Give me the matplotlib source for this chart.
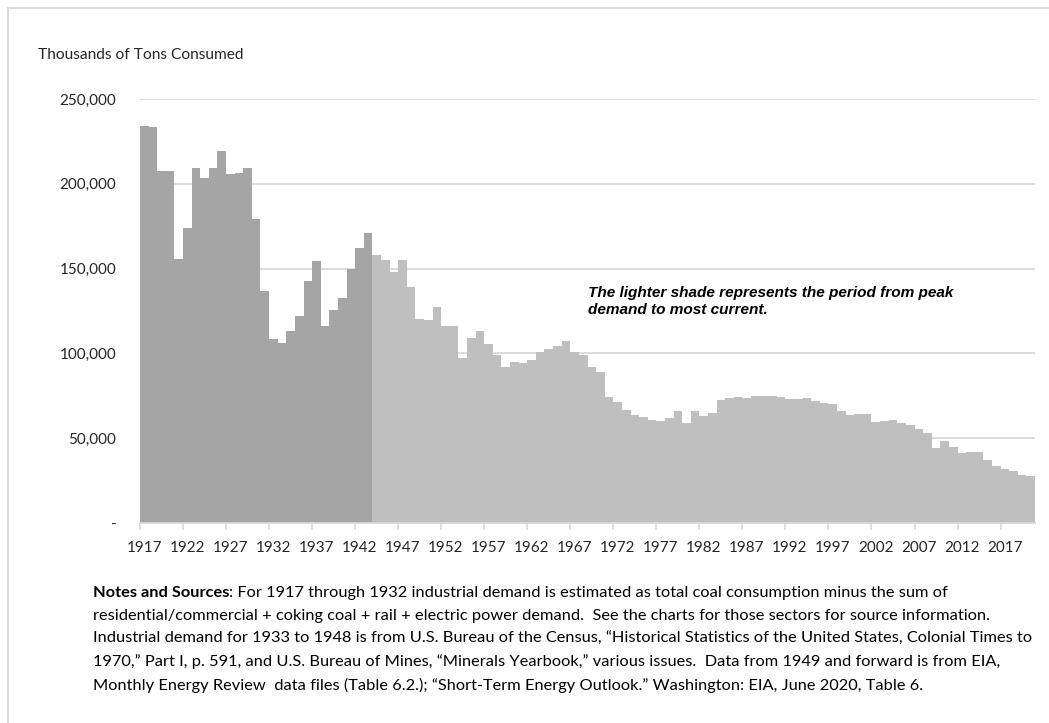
import numpy as np
import matplotlib
matplotlib.use("Agg")
import matplotlib.pyplot as plt
from matplotlib.ticker import FuncFormatter, FixedLocator
from matplotlib.lines import Line2D

# Industrial coal demand, thousands of short tons, 1917-2020
years = list(range(1917, 2021))
demand = [
    234.1, 233.5, 207.3, 207.6, 155.5, 173.7, 209.6, 203.3, 209.2, 219.6,   # 1917-1926
    205.5, 206.3, 209.6, 179.0, 136.9, 108.6, 106.3, 113.1, 122.0, 142.7,   # 1927-1936
    154.5, 116.1, 125.3, 132.9, 149.8, 162.0, 171.2, 158.2, 155.3, 147.8,   # 1937-1946
    155.3, 139.0, 120.0, 119.4, 127.5, 116.1, 116.1, 97.3, 108.8, 113.3,    # 1947-1956
    105.7, 99.2, 91.8, 95.1, 94.5, 96.1, 100.8, 102.3, 104.5, 107.6,        # 1957-1966
    100.8, 99.2, 92.1, 88.8, 74.5, 71.6, 66.9, 63.9, 62.5, 60.6,            # 1967-1976
    60.0, 62.0, 66.3, 59.2, 66.3, 62.9, 65.1, 72.3, 73.9, 74.3,             # 1977-1986
    73.9, 74.9, 75.1, 74.9, 74.3, 73.1, 73.3, 73.9, 71.9, 70.8,             # 1987-1996
    70.2, 66.3, 63.5, 64.1, 64.1, 59.8, 60.2, 61.0, 59.2, 58.0,             # 1997-2006
    55.3, 53.3, 44.3, 48.4, 44.7, 41.4, 41.8, 41.8, 37.1, 33.7,             # 2007-2016
    31.8, 30.4, 28.2, 27.6,                                                 # 2017-2020
]
demand = [v * 1000 for v in demand]
peak_end_year = 1943  # darker shade up to the peak, lighter afterwards

dark_color = "#A5A5A5"
light_color = "#BFBFBF"
grid_color = "#D9D9D9"

fig = plt.figure(figsize=(10.49, 7.23), dpi=100)
W, H = 1049, 723

def fx(px):
    return px / W

def fy(py):
    return 1 - py / H

ax = fig.add_axes([fx(140), fy(523), fx(1035) - fx(140), fy(99) - fy(523)])

x = np.arange(len(years))
colors = [dark_color if y <= peak_end_year else light_color for y in years]
ax.bar(x, demand, width=1.0, color=colors, linewidth=0, zorder=2)

ax.set_xlim(-0.5, len(years) - 0.5)
ax.set_ylim(0, 250000)

# gridlines
ax.set_yticks([0, 50000, 100000, 150000, 200000, 250000])
ax.yaxis.set_major_formatter(FuncFormatter(lambda v, p: "-" if v == 0 else f"{int(v):,}"))
ax.grid(axis="y", color=grid_color, linewidth=1.3, zorder=0)
ax.set_axisbelow(True)

# x ticks: labels every 5 years, tick marks at category edges
label_idx = [i for i, y in enumerate(years) if (y - 1917) % 5 == 0]
ax.set_xticks(label_idx)
ax.set_xticklabels([str(years[i]) for i in label_idx])
ax.xaxis.set_minor_locator(FixedLocator([i - 0.5 for i in label_idx]))
ax.tick_params(axis="x", which="major", length=0, pad=13)
ax.tick_params(axis="x", which="minor", length=5, color=grid_color, width=1.2)
ax.tick_params(axis="y", length=0, pad=17)

for lab in ax.get_xticklabels() + ax.get_yticklabels():
    lab.set_fontfamily("Lato")
    lab.set_fontsize(11)
    lab.set_color("#262626")

for side in ["top", "right", "left"]:
    ax.spines[side].set_visible(False)
ax.spines["bottom"].set_color(grid_color)
ax.spines["bottom"].set_linewidth(1.3)
ax.spines["bottom"].set_zorder(3)

# y-axis title
fig.text(fx(38), fy(55), "Thousands of Tons Consumed", fontfamily="Lato",
         fontsize=11.2, color="#262626", va="center", ha="left")

# annotation
fig.text(fx(588), fy(286), "The lighter shade represents the period from peak\ndemand to most current.",
         fontfamily="Liberation Sans", fontsize=11.1, fontweight="bold", fontstyle="italic",
         color="black", va="top", ha="left", linespacing=1.3)

# notes and sources
notes_lines = [
    "For 1917 through 1932 industrial demand is estimated as total coal consumption minus the sum of",
    "residential/commercial + coking coal + rail + electric power demand.  See the charts for those sectors for source information.",
    "Industrial demand for 1933 to 1948 is from U.S. Bureau of the Census, \u201cHistorical Statistics of the United States, Colonial Times to",
    "1970,\u201d Part I, p. 591, and U.S. Bureau of Mines, \u201cMinerals Yearbook,\u201d various issues.  Data from 1949 and forward is from EIA,",
    "Monthly Energy Review  data files (Table 6.2.); \u201cShort-Term Energy Outlook.\u201d Washington: EIA, June 2020, Table 6.",
]
note_x = fx(93)
note_y0 = 593
note_step = 23
notes_font = dict(fontfamily="Lato", fontsize=11.8, color="black", va="center", ha="left")

fig.canvas.draw()
renderer = fig.canvas.get_renderer()
bold = fig.text(note_x, fy(note_y0), "Notes and Sources", fontweight="bold", **notes_font)
bb = bold.get_window_extent(renderer=renderer)
fig.text(bb.x1 / W, fy(note_y0), ": " + notes_lines[0], **notes_font)
for k, line in enumerate(notes_lines[1:], start=1):
    fig.text(note_x, fy(note_y0 + k * note_step), line, **notes_font)

# light frame around the chart
fig.add_artist(Line2D([fx(8), fx(8)], [fy(8), 0], color=grid_color, linewidth=1.3))
fig.add_artist(Line2D([fx(8), 1], [fy(8), fy(8)], color=grid_color, linewidth=1.3))

fig.savefig("out.png", dpi=100)
